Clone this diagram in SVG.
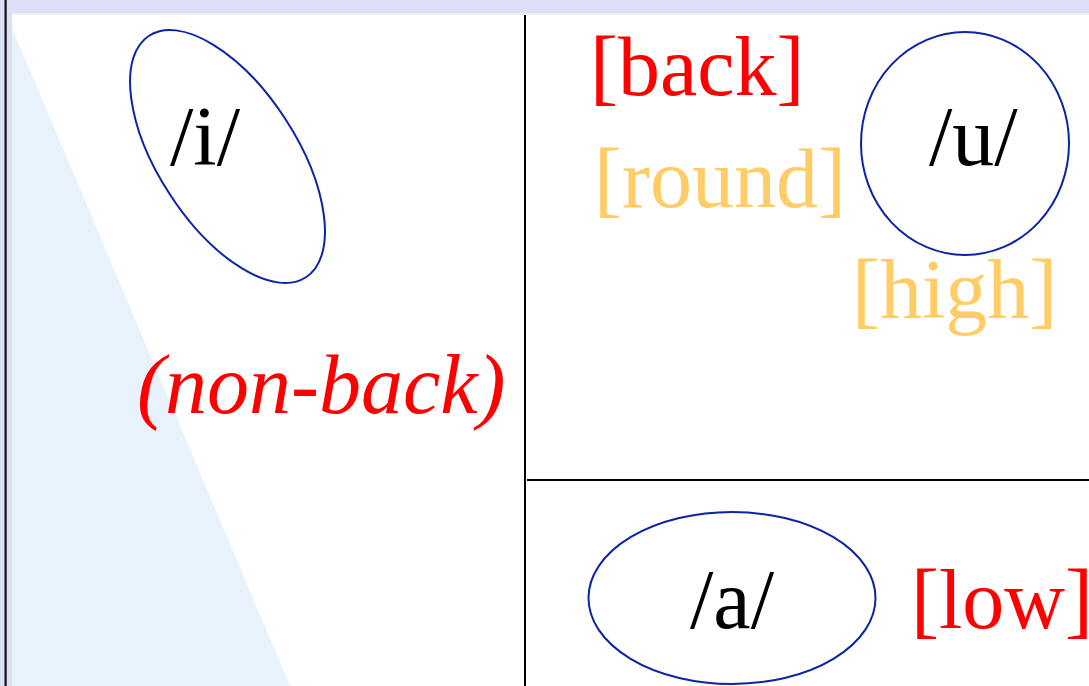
<svg xmlns="http://www.w3.org/2000/svg" width="1089" height="686" viewBox="0 0 1089 686">
<style>
.t{font-family:"Liberation Serif","Times New Roman",serif;font-size:84px}
.blk{fill:#000}
.red{fill:#ff0000}
.org{fill:#ffcc66}
.it{font-style:italic}
.shape{fill:none;stroke:#0b24a3;stroke-width:2}
.rule{stroke:#000;stroke-width:2}
</style>
<rect x="0" y="0" width="1089" height="686" fill="#ffffff"/>
<g id="frame">
<rect x="0" y="0" width="1089" height="13" fill="#dcdff5"/>
<rect x="12" y="13" width="1077" height="2" fill="#eef0fb"/>
<rect x="0" y="0" width="12" height="686" fill="#dcdff5"/>
<rect x="4.5" y="0" width="2.2" height="686" fill="#111"/>
<polygon points="12,28 290,686 12,686" fill="#e8f2fd"/>
</g>
<g id="connectors">
<line class="rule" x1="525" y1="15" x2="525" y2="686"/>
<line class="rule" x1="527" y1="480" x2="1089" y2="480"/>
</g>
<g id="node-i">
<ellipse class="shape" cx="227.5" cy="156.5" rx="144" ry="69" transform="rotate(57 227.5 156.5)"/>
<text class="t blk" x="170" y="165">/i/</text>
</g>
<g id="node-u">
<ellipse class="shape" cx="965" cy="143.5" rx="104" ry="111.5"/>
<text class="t blk" x="929" y="165">/u/</text>
</g>
<g id="node-a">
<ellipse class="shape" cx="732" cy="598" rx="143.5" ry="86"/>
<text class="t blk" x="732" y="628" text-anchor="middle">/a/</text>
</g>
<g id="labels">
<text class="t red" x="590" y="95">[back]</text>
<text class="t org" x="594" y="207">[round]</text>
<text class="t org" x="852" y="318">[high]</text>
<text class="t red it" x="137" y="413">(non-back)</text>
<text class="t red" x="911" y="628">[low]</text>
</g>
</svg>
